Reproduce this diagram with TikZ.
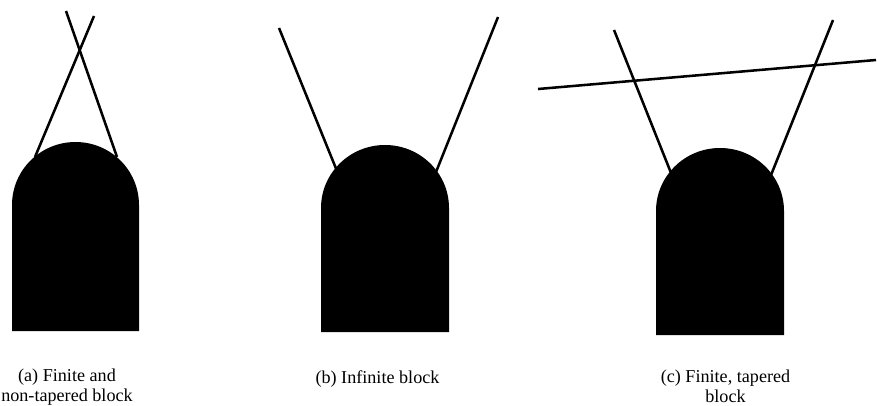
\documentclass[tikz,border=0pt]{standalone}
\usepackage{fontspec}
\setmainfont{Liberation Serif}
\tikzset{
  blockshape/.style={fill=black},
  edgeline/.style={line width=1.9pt,black},
  caption/.style={font=\fontsize{13.6pt}{15pt}\selectfont,align=center,inner sep=0pt}
}
\begin{document}
\begin{tikzpicture}[x=1pt,y=-1pt,scale=0.75]
\useasboundingbox (0,0) rectangle (877,406);
% (a)
\fill[blockshape] (12,331) -- (12,205) arc[start angle=180,end angle=360,x radius=63.5,y radius=63] -- (139,331) -- cycle;
\coordinate (a1) at (66,11);
\coordinate (a2) at (117,157);
\coordinate (a3) at (94,16);
\coordinate (a4) at (35,157);
\draw[edgeline] (a1) -- (a2);
\draw[edgeline] (a3) -- (a4);
\node[caption] (capa) at (67,387) {(a) Finite and\\non-tapered block};
% (b)
\fill[blockshape] (321,332) -- (321,208) arc[start angle=180,end angle=360,x radius=64,y radius=63] -- (449,332) -- cycle;
\coordinate (b1) at (279,28);
\coordinate (b2) at (337,171);
\coordinate (b3) at (498,17);
\coordinate (b4) at (436,172);
\draw[edgeline] (b1) -- (b2);
\draw[edgeline] (b3) -- (b4);
\node[caption] (capb) at (377.5,379) {(b) Infinite block};
% (c)
\fill[blockshape] (656,335) -- (656,211) arc[start angle=180,end angle=360,x radius=64,y radius=63] -- (784,335) -- cycle;
\coordinate (c1) at (614,30);
\coordinate (c2) at (671,173);
\coordinate (c3) at (833,20);
\coordinate (c4) at (771,175);
\coordinate (c5) at (538,89);
\coordinate (c6) at (876,60);
\draw[edgeline] (c1) -- (c2);
\draw[edgeline] (c3) -- (c4);
\draw[edgeline] (c5) -- (c6);
\node[caption] (capc) at (725.5,386.5) {(c) Finite, tapered\\block};
\end{tikzpicture}
\end{document}
